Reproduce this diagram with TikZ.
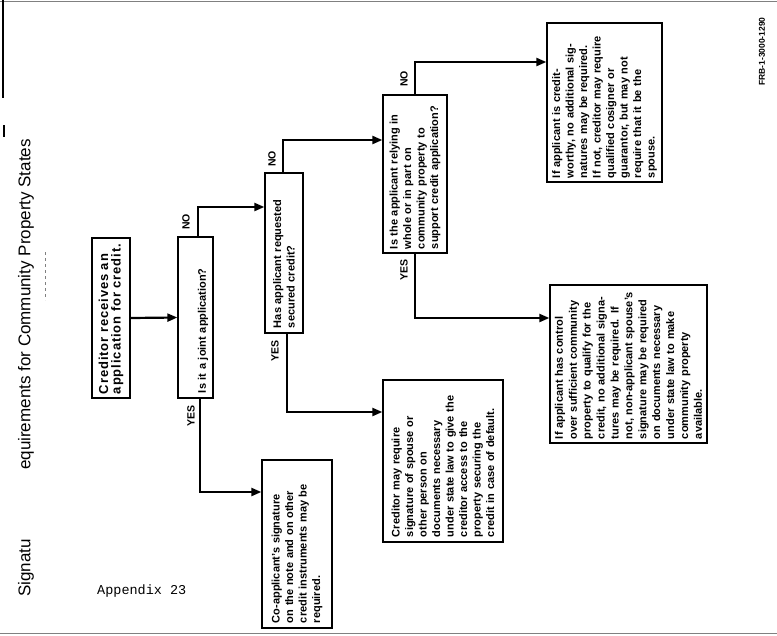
\documentclass[tikz,border=0pt]{standalone}
\usepackage{fontspec}
\setmainfont{Liberation Sans}
\setmonofont{Liberation Mono}
\usetikzlibrary{arrows.meta,positioning}

\begin{document}
\begin{tikzpicture}[
  x=1pt, y=-1pt,
  font=\bfseries\fontsize{11}{13.5}\selectfont,
  box/.style={draw, line width=1.3pt, rotate=90, align=left, inner sep=4pt},
  lbl/.style={rotate=90, inner sep=0pt, font=\bfseries\fontsize{10.5}{12}\selectfont},
  ttl/.style={rotate=90, inner sep=0pt, anchor=west, font=\mdseries\fontsize{17}{20}\selectfont},
  arr/.style={-{Triangle[length=10pt,width=8pt]}, line width=2.2pt}
]
\useasboundingbox (0,0) rectangle (777,635);

% page edges and scan marks
\draw[gray, line width=1pt] (0,1) -- (777,1);
\draw[gray, line width=1pt] (0,633) -- (777,633);
\draw[line width=1.5pt] (3,0) -- (3,98);
\draw[line width=1.5pt] (4,125) -- (4,137);
\draw[gray, dashed] (45,252) -- (45,300);

\node[ttl] (ttla) at (26,597) {Signatu};
\node[ttl] (ttlb) at (26,470) {equirements for Community Property States};
\node[anchor=west, inner sep=0pt, font=\ttfamily\mdseries\fontsize{13.5}{15}\selectfont] (app) at (97,591) {Appendix 23};
\node[rotate=90, anchor=west, inner sep=0pt, font=\bfseries\fontsize{8.5}{10}\selectfont] (frb) at (762,86) {FRB-1-3000-1290};

% boxes
\node[box, minimum width=160pt, minimum height=38pt, text width=152pt, inner xsep=3pt,
      font=\bfseries\fontsize{13}{12.5}\selectfont\addfontfeature{LetterSpace=7}] (a) at (111,318)
  {Creditor receives an\\ application for credit.};
\node[box, minimum width=161pt, minimum height=35pt, text width=151pt] (b) at (195.5,317.5)
  {\strut\\ Is it a joint application?};
\node[box, minimum width=160pt, minimum height=38pt, text width=150pt] (c) at (284,253)
  {Has applicant requested\\ secured credit?};
\node[box, minimum width=158pt, minimum height=64pt, text width=150pt] (d) at (415,174)
  {Is the applicant relying in\\ whole or in part on\\ community property to\\ support credit application?};
\node[box, minimum width=159pt, minimum height=115pt, text width=151pt] (e) at (604.5,102.5)
  {If applicant is credit-\\ worthy, no additional sig-\\ natures may be required.\\ If not, creditor may require\\ qualified cosigner or\\ guarantor, but may not\\ require that it be the\\ spouse.};
\node[box, minimum width=158pt, minimum height=157pt, text width=150pt, font=\bfseries\fontsize{11}{13.9}\selectfont] (f) at (628.5,364)
  {If applicant has control\\ over sufficient community\\ property to qualify for the\\ credit, no additional signa-\\ tures may be required. If\\ not, non-applicant spouse's\\ signature may be required\\ on documents necessary\\ under state law to make\\ community property\\ available.};
\node[box, minimum width=162pt, minimum height=120pt, text width=152pt] (g) at (443,461)
  {Creditor may require\\ signature of spouse or\\ other person on\\ documents necessary\\ under state law to give the\\ creditor access to the\\ property securing the\\ credit in case of default.};
\node[box, minimum width=168pt, minimum height=70pt, text width=158pt] (h) at (297,544)
  {Co-applicant's signature\\ on the note and on other\\ credit instruments may be\\ required.};

% elbows
\coordinate (bno) at (198,207);
\coordinate (byes) at (200,492);
\coordinate (cno) at (283,140);
\coordinate (cyes) at (287,412);
\coordinate (dno) at (415,62);
\coordinate (dyes) at (415,318);

\draw[arr] (a.south) -- (b.north);
\draw[arr] (b.east -| bno) |- (c.north |- bno);
\draw[arr] (b.west -| byes) |- (h.north |- byes);
\draw[arr] (c.east -| cno) |- (d.north |- cno);
\draw[arr] (c.west -| cyes) |- (g.north |- cyes);
\draw[arr] (d.east -| dno) |- (e.north |- dno);
\draw[arr] (d.west -| dyes) |- (f.north |- dyes);

\node[lbl] (bnol) at (186,222) {NO};
\node[lbl] (byesl) at (191,416) {YES};
\node[lbl] (cnol) at (272,159) {NO};
\node[lbl] (cyesl) at (275,351) {YES};
\node[lbl] (dnol) at (404,79) {NO};
\node[lbl] (dyesl) at (404,270) {YES};
\end{tikzpicture}
\end{document}
